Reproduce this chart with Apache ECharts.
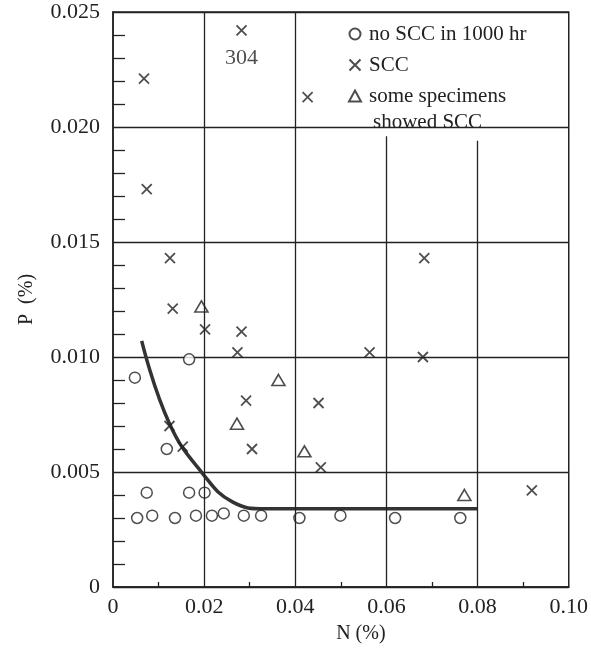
<!DOCTYPE html>
<html lang="en">
<head>
    <meta charset="UTF-8">
    <title>P vs N</title>
    <script src="https://cdn.jsdelivr.net/npm/echarts@6/dist/echarts.min.js"></script>
</head>
<body style="margin:0">
<div id="main" style="width: 591px;height:651px;"></div>
<script>
    // N (%), P (%)
    let noScc = [
        [0.0048, 0.0091], [0.0167, 0.0099], [0.0118, 0.0060],
        [0.0074, 0.0041], [0.0167, 0.0041], [0.0201, 0.0041],
        [0.0053, 0.0030], [0.0086, 0.0031], [0.0136, 0.0030], [0.0182, 0.0031],
        [0.0217, 0.0031], [0.0243, 0.0032], [0.0287, 0.0031], [0.0325, 0.0031],
        [0.0409, 0.0030], [0.0499, 0.0031], [0.0619, 0.0030], [0.0762, 0.0030]
    ];
    let scc = [
        [0.0068, 0.0221], [0.0074, 0.0173], [0.0125, 0.0143], [0.0131, 0.0121],
        [0.0282, 0.0242], [0.0427, 0.0213], [0.0683, 0.0143],
        [0.0202, 0.0112], [0.0282, 0.0111], [0.0273, 0.0102],
        [0.0292, 0.0081], [0.0124, 0.0070], [0.0153, 0.0061], [0.0305, 0.0060],
        [0.0563, 0.0102], [0.0680, 0.0100], [0.0451, 0.0080], [0.0456, 0.0052],
        [0.0919, 0.0042]
    ];
    let someScc = [
        [0.0194, 0.0122], [0.0363, 0.0090], [0.0272, 0.0071],
        [0.0420, 0.0059], [0.0771, 0.0040]
    ];
    let boundary = [
        [0.0063, 0.0107], [0.0124, 0.0071], [0.0198, 0.0049],
        [0.0262, 0.0037], [0.0334, 0.0034], [0.0800, 0.0034]
    ];
    let label304 = '304';

    let ink = '#222';
    let font = 'Liberation Serif';
    let chart = echarts.init(document.getElementById('main'));

    let gridLine = {color: ink, width: 1.3, type: 'solid'};
    let option = {
        animation: false,
        backgroundColor: '#fff',
        grid: {left: 113, right: 19, top: 12, bottom: 64, show: true, borderColor: ink, borderWidth: 1.5},
        legend: {
            orient: 'vertical',
            left: 343,
            top: 16,
            itemGap: 5,
            itemWidth: 12,
            itemHeight: 11,
            textStyle: {fontFamily: font, fontSize: 21, color: ink, lineHeight: 26, padding: [0, 0, 0, 3]},
            data: ['no SCC in 1000 hr', 'SCC', 'some specimens']
        },
        graphic: [{
            type: 'text',
            left: 364,
            top: 112,
            style: {
                text: 'showed SCC', fontFamily: font, fontSize: 21, fill: ink,
                backgroundColor: '#fff', padding: [0, 9, 0, 9]
            }
        }],
        xAxis: {
            type: 'value', min: 0, max: 0.10, interval: 0.02,
            name: 'N (%)', nameLocation: 'middle', nameGap: 37,
            nameTextStyle: {fontFamily: font, fontSize: 20, color: ink, padding: [0, 0, 0, 40]},
            axisLine: {lineStyle: {color: ink, width: 1.5}},
            axisTick: {show: false},
            minorTick: {show: true, splitNumber: 2, length: -5, lineStyle: {color: ink, width: 1.3}},
            splitLine: {show: false},
            axisLabel: {
                fontFamily: font, fontSize: 22, color: ink, margin: 9,
                formatter: v => v === 0 ? '0' : v.toFixed(2)
            }
        },
        yAxis: {
            type: 'value', min: 0, max: 0.025, interval: 0.005,
            name: 'P  (%)', nameLocation: 'middle', nameGap: 76,
            nameTextStyle: {fontFamily: font, fontSize: 20, color: ink},
            axisLine: {lineStyle: {color: ink, width: 1.5}},
            axisTick: {show: false},
            minorTick: {show: true, splitNumber: 5, length: -12, lineStyle: {color: ink, width: 1.3}},
            splitLine: {show: true, lineStyle: gridLine},
            axisLabel: {
                fontFamily: font, fontSize: 22, color: ink, margin: 13,
                formatter: v => v === 0 ? '0' : v.toFixed(3)
            }
        },
        series: [
            {
                name: 'boundary',
                type: 'line',
                data: boundary,
                smooth: 0.45,
                symbol: 'none',
                lineStyle: {color: '#333', width: 3.5},
                z: 1,
                markLine: {
                    silent: true,
                    symbol: 'none',
                    label: {show: false},
                    lineStyle: gridLine,
                    data: [
                        [{coord: [0.02, 0]}, {coord: [0.02, 0.025]}],
                        [{coord: [0.04, 0]}, {coord: [0.04, 0.025]}],
                        [{coord: [0.06, 0]}, {coord: [0.06, 0.0196]}],
                        [{coord: [0.08, 0]}, {coord: [0.08, 0.0194]}]
                    ]
                }
            },
            {
                name: 'no SCC in 1000 hr',
                type: 'scatter',
                data: noScc,
                symbol: 'circle',
                symbolSize: 11,
                itemStyle: {color: '#fff', borderColor: ink, borderWidth: 1.5},
                z: 3
            },
            {
                name: 'SCC',
                type: 'scatter',
                data: scc.map(p => p[0] === 0.0282 && p[1] === 0.0242
                    ? {value: p, label: {show: true, position: 'bottom', distance: 11, formatter: label304,
                        fontFamily: font, fontSize: 22, color: ink}}
                    : p),
                symbol: 'path://M0,0L10,10M10,0L0,10',
                symbolSize: 10,
                itemStyle: {color: ink, borderColor: ink, borderWidth: 1.8},
                z: 3
            },
            {
                name: 'some specimens',
                type: 'scatter',
                data: someScc,
                symbol: 'triangle',
                symbolSize: [13, 11],
                itemStyle: {color: '#fff', borderColor: ink, borderWidth: 1.6},
                z: 3
            }
        ]
    };
    chart.setOption(option);
</script>
</body>
</html>
